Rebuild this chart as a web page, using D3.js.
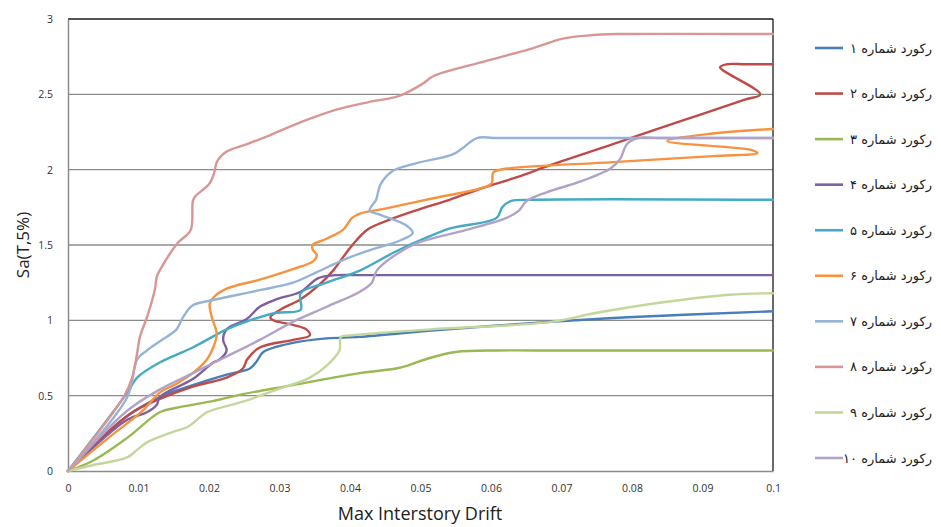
<!DOCTYPE html>
<html>
<head>
<meta charset="utf-8">
<script src="https://cdn.jsdelivr.net/npm/d3@7"></script>
<style>
  html, body { margin: 0; padding: 0; background: #fff; }
  svg { display: block; }
</style>
</head>
<body>
<svg id="chart" width="941" height="527"></svg>
<script>
// ---- Data (drift, Sa) per record ----
const seriesNames = ["رکورد شماره ۱","رکورد شماره ۲","رکورد شماره ۳","رکورد شماره ۴","رکورد شماره ۵",
                     "رکورد شماره ۶","رکورد شماره ۷","رکورد شماره ۸","رکورد شماره ۹","رکورد شماره ۱۰"];
const seriesColors = ["#4A7EBB","#BE4B48","#98B954","#7D60A0","#46AAC5",
                      "#F69240","#95B3D7","#D99694","#C3D69B","#B3A2C7"];

const rec1 = [[0,0],[0.0080,0.35],[0.0130,0.49],[0.0177,0.57],[0.0225,0.64],[0.0258,0.68],[0.0268,0.73],
  [0.0277,0.79],[0.0319,0.85],[0.0367,0.88],[0.0414,0.89],[0.0511,0.93],[0.0652,0.98],[0.0794,1.02],[0.1,1.06]];
const rec2 = [[0,0],[0.0088,0.38],[0.0126,0.47],[0.0177,0.56],[0.0225,0.62],[0.0248,0.68],[0.0254,0.74],
  [0.0272,0.82],[0.0319,0.87],[0.0343,0.90],[0.0338,0.94],[0.0319,0.97],[0.0291,1.00],[0.0287,1.02],
  [0.0301,1.07],[0.0330,1.14],[0.0355,1.23],[0.0376,1.33],[0.0400,1.48],[0.0424,1.60],[0.0452,1.66],
  [0.0494,1.73],[0.0541,1.80],[0.0589,1.88],[0.0637,1.95],[0.0684,2.03],[0.0773,2.17],[0.0868,2.32],
  [0.0960,2.465],[0.0982,2.50],[0.0925,2.68],[0.0935,2.70],[0.0960,2.70],[0.1,2.70]];
const rec3 = [[0,0],[0.0036,0.07],[0.0084,0.22],[0.0130,0.39],[0.0154,0.42],[0.0201,0.46],[0.0248,0.51],
  [0.0319,0.57],[0.0414,0.65],[0.0465,0.68],[0.0482,0.70],[0.0513,0.75],[0.0550,0.79],[0.0610,0.80],
  [0.0660,0.80],[0.1,0.80]];
const rec4 = [[0,0],[0.0084,0.34],[0.0112,0.39],[0.0126,0.44],[0.0130,0.49],[0.0177,0.61],[0.0206,0.72],
  [0.0215,0.74],[0.0225,0.80],[0.0220,0.87],[0.0225,0.94],[0.0254,1.01],[0.0272,1.09],[0.0296,1.14],
  [0.0330,1.19],[0.0355,1.28],[0.0380,1.30],[0.0420,1.30],[0.1,1.30]];
const rec5 = [[0,0],[0.0084,0.52],[0.0092,0.58],[0.0098,0.62],[0.0130,0.72],[0.0177,0.82],[0.0225,0.94],
  [0.0258,1.00],[0.0296,1.05],[0.0330,1.07],[0.0330,1.18],[0.0367,1.25],[0.0414,1.33],[0.0462,1.45],
  [0.0509,1.55],[0.0542,1.61],[0.0608,1.68],[0.0616,1.75],[0.0627,1.79],[0.0660,1.80],[0.1,1.80]];
const rec6 = [[0,0],[0.0060,0.23],[0.0106,0.40],[0.0130,0.52],[0.0154,0.58],[0.0177,0.65],[0.0197,0.74],
  [0.0206,0.82],[0.0211,0.91],[0.0204,1.02],[0.0201,1.11],[0.0206,1.15],[0.0225,1.21],[0.0272,1.27],
  [0.0319,1.34],[0.0347,1.39],[0.0353,1.43],[0.0347,1.47],[0.0347,1.50],[0.0366,1.54],[0.0390,1.60],
  [0.0403,1.68],[0.0415,1.71],[0.0448,1.74],[0.0518,1.81],[0.0589,1.88],[0.0601,1.91],[0.0603,1.98],
  [0.0613,2.00],[0.0773,2.05],[0.0915,2.09],[0.0978,2.11],[0.0970,2.13],[0.0850,2.19],[0.0915,2.24],[0.1,2.27]];
const rec7 = [[0,0],[0.0084,0.49],[0.0098,0.74],[0.0112,0.80],[0.0130,0.86],[0.0154,0.94],[0.0163,1.02],
  [0.0177,1.10],[0.0201,1.13],[0.0272,1.20],[0.0319,1.25],[0.0353,1.32],[0.0390,1.40],[0.0424,1.46],
  [0.0471,1.53],[0.0489,1.58],[0.0480,1.63],[0.0443,1.70],[0.0428,1.73],[0.0437,1.80],[0.0443,1.90],
  [0.0460,1.99],[0.0492,2.04],[0.0545,2.10],[0.0559,2.14],[0.0580,2.21],[0.0610,2.21],[0.1,2.21]];
const rec8 = [[0,0],[0.0080,0.50],[0.0091,0.62],[0.0098,0.78],[0.0102,0.89],[0.0112,1.02],[0.0116,1.08],
  [0.0123,1.20],[0.0126,1.29],[0.0130,1.33],[0.0155,1.51],[0.0174,1.60],[0.0177,1.79],[0.0180,1.82],
  [0.0201,1.91],[0.0208,1.99],[0.0211,2.05],[0.0225,2.12],[0.0254,2.17],[0.0287,2.23],[0.0333,2.32],
  [0.0382,2.40],[0.0428,2.45],[0.0470,2.49],[0.0503,2.57],[0.0518,2.62],[0.0584,2.71],[0.0655,2.80],
  [0.0702,2.87],[0.0736,2.89],[0.0780,2.90],[0.1,2.90]];
const rec9 = [[0,0],[0.0036,0.04],[0.0084,0.09],[0.0098,0.14],[0.0112,0.19],[0.0149,0.26],[0.0169,0.29],
  [0.0183,0.34],[0.0197,0.39],[0.0248,0.46],[0.0296,0.54],[0.0343,0.62],[0.0367,0.70],[0.0385,0.80],
  [0.0387,0.89],[0.0400,0.90],[0.0515,0.94],[0.0685,0.99],[0.0750,1.05],[0.0844,1.12],[0.0938,1.17],[0.1,1.18]];
const rec10 = [[0,0],[0.0084,0.40],[0.0130,0.54],[0.0177,0.65],[0.0225,0.76],[0.0272,0.87],[0.0319,0.99],
  [0.0367,1.09],[0.0414,1.19],[0.0431,1.25],[0.0438,1.33],[0.0460,1.42],[0.0494,1.51],[0.0565,1.60],
  [0.0622,1.68],[0.0640,1.73],[0.0650,1.79],[0.0679,1.85],[0.0726,1.92],[0.0770,2.01],[0.0783,2.07],
  [0.0793,2.17],[0.0808,2.21],[0.0840,2.21],[0.1,2.21]];

const xTicks = [0,0.01,0.02,0.03,0.04,0.05,0.06,0.07,0.08,0.09,0.1];
const xTickLabels = ["0","0.01","0.02","0.03","0.04","0.05","0.06","0.07","0.08","0.09","0.1"];
const yTicks = [0,0.5,1,1.5,2,2.5,3];
const yTickLabels = ["0","0.5","1","1.5","2","2.5","3"];

const allSeries = [rec1,rec2,rec3,rec4,rec5,rec6,rec7,rec8,rec9,rec10];

// ---- Layout ----
const svg = d3.select("#chart");
const L = 68, R = 773, T = 19, B = 471;
const x = d3.scaleLinear().domain([0, 0.1]).range([L, R]);
const y = d3.scaleLinear().domain([0, 3]).range([B, T]);

// gridlines
svg.append("g").selectAll("line").data(yTicks.filter(d => d > 0 && d < 3)).join("line")
  .attr("x1", L).attr("x2", R).attr("y1", d => y(d)).attr("y2", d => y(d))
  .attr("stroke", "#8c8c8c").attr("stroke-width", 1.3);

// plot frame: top & right dark, left & bottom gray
svg.append("line").attr("x1", L).attr("x2", R).attr("y1", y(3)).attr("y2", y(3))
  .attr("stroke", "#1a1a1a").attr("stroke-width", 1.3);
svg.append("line").attr("x1", R).attr("x2", R).attr("y1", y(3)).attr("y2", y(0))
  .attr("stroke", "#1a1a1a").attr("stroke-width", 1.3);

// axes
const xAxis = d3.axisBottom(x).tickValues(xTicks).tickFormat((d, i) => xTickLabels[i]).tickSize(0).tickPadding(14);
const yAxis = d3.axisLeft(y).tickValues(yTicks).tickFormat((d, i) => yTickLabels[i]).tickSize(0).tickPadding(15);
const gx = svg.append("g").attr("transform", `translate(0,${B})`).call(xAxis);
const gy = svg.append("g").attr("transform", `translate(${L},0)`).call(yAxis);
[gx, gy].forEach(g => {
  g.select(".domain").attr("stroke", "#8c8c8c").attr("stroke-width", 1.5);
  g.selectAll("text").attr("font-family", "'Open Sans', sans-serif").attr("font-size", 10.5).attr("fill", "#333");
});

// series
const line = d3.line().x(d => x(d[0])).y(d => y(d[1])).curve(d3.curveCatmullRom.alpha(0.5));
svg.append("g").selectAll("path").data(allSeries).join("path")
  .attr("d", d => line(d))
  .attr("fill", "none")
  .attr("stroke", (d, i) => seriesColors[i])
  .attr("stroke-width", 2.4)
  .attr("stroke-linejoin", "round")
  .attr("stroke-linecap", "round");

// axis titles
svg.append("text").attr("x", 420).attr("y", 520).attr("text-anchor", "middle")
  .attr("font-family", "'Open Sans', sans-serif").attr("font-size", 18).attr("fill", "#222")
  .text("Max Interstory Drift");
svg.append("text").attr("transform", "translate(29,245) rotate(-90)").attr("text-anchor", "middle")
  .attr("font-family", "'Open Sans', sans-serif").attr("font-size", 17).attr("fill", "#222")
  .text("Sa(T,5%)");

// legend
const legY = d3.scaleLinear().domain([0, 9]).range([48, 458]);
const leg = svg.append("g").selectAll("g").data(seriesNames).join("g")
  .attr("transform", (d, i) => `translate(0,${legY(i)})`);
leg.append("line").attr("x1", 815).attr("x2", 843).attr("y1", 0).attr("y2", 0)
  .attr("stroke", (d, i) => seriesColors[i]).attr("stroke-width", 2.6);
leg.append("text").attr("x", 932).attr("y", 4.5).attr("text-anchor", "end")
  .attr("font-family", "'DejaVu Sans', sans-serif").attr("font-size", 13).attr("fill", "#222")
  .text(d => d);
</script>
</body>
</html>
